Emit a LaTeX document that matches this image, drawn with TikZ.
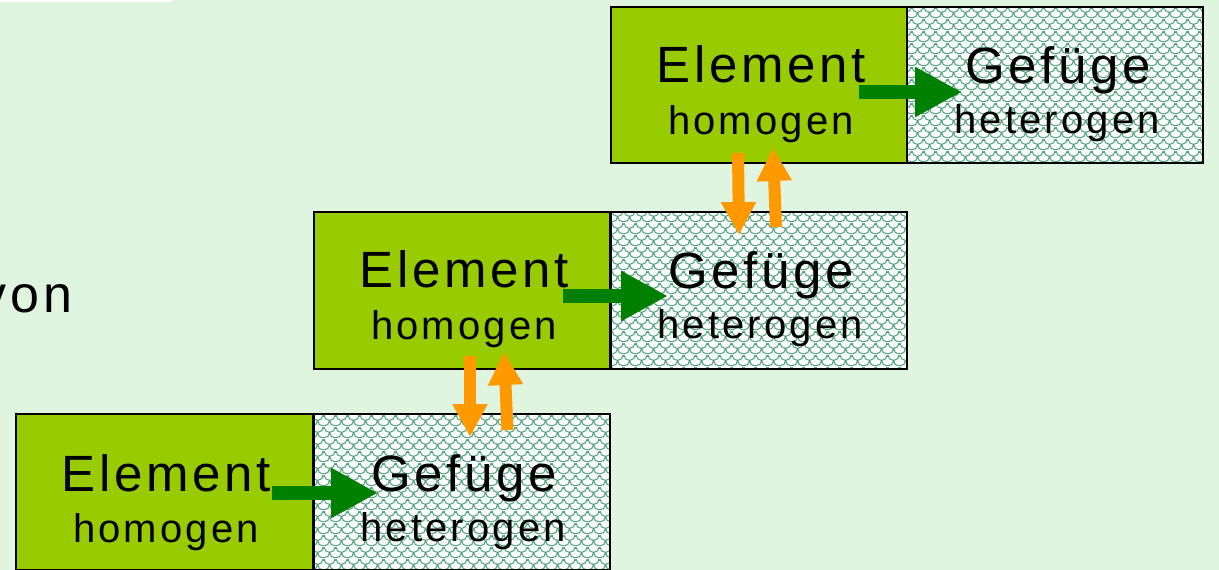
\documentclass[tikz,border=0pt]{standalone}
\usepackage{fontspec}
\setmainfont{Liberation Sans}
\usetikzlibrary{arrows.meta,patterns}
\definecolor{bg}{RGB}{224,245,224}
\definecolor{elemgreen}{RGB}{153,204,0}
\definecolor{patcol}{RGB}{75,160,125}
\definecolor{arrgreen}{RGB}{0,128,0}
\definecolor{arrorange}{RGB}{255,153,0}
\pgfdeclarepatterninherentlycolored{scales}{\pgfpoint{0bp}{0bp}}{\pgfpoint{12bp}{12bp}}{\pgfpoint{12bp}{12bp}}{%
  \pgfsetlinewidth{1.1bp}%
  \pgfsetstrokecolor{patcol}%
  \pgfpathmoveto{\pgfpoint{0bp}{12bp}}\pgfpatharc{180}{360}{6bp}%
  \pgfpathmoveto{\pgfpoint{0bp}{0bp}}\pgfpatharc{270}{360}{6bp}%
  \pgfpathmoveto{\pgfpoint{6bp}{6bp}}\pgfpatharc{180}{270}{6bp}%
  \pgfusepath{stroke}%
}
\tikzset{
  box/.style={draw=black,line width=2bp,minimum width=296bp,minimum height=156bp,inner sep=0pt,outer sep=0pt},
  elembox/.style={box,fill=elemgreen},
  gefbox/.style={box,preaction={fill=white},pattern=scales},
  bigtext/.style={anchor=base,inner sep=0pt,font=\fontsize{51bp}{60bp}\selectfont\addfontfeature{LetterSpace=7}},
  smalltext/.style={anchor=base,inner sep=0pt,font=\fontsize{40bp}{48bp}\selectfont\addfontfeature{LetterSpace=8}},
  greenarrow/.style={draw=arrgreen,line width=14bp,-{Triangle[length=47bp,width=47bp]}},
  orangearrow/.style={draw=arrorange,line width=12bp,-{Triangle[length=33bp,width=33bp]}},
}
\begin{document}
\begin{tikzpicture}[x=1bp,y=-1bp]
\useasboundingbox (0,0) rectangle (1219,570);
\fill[bg] (0,0) rectangle (1219,570);
\fill[white] (0,0) rectangle (172,2);
\node[anchor=base east,inner sep=0pt,font=\fontsize{52bp}{60bp}\selectfont\addfontfeature{LetterSpace=8}] (von) at (73,313) {von};
% top row
\node[elembox] (e3) at (759,85) {};
\node[gefbox] (g3) at (1055,85) {};
\node[bigtext] (e3a) at (761,83) {Element};
\node[smalltext] (e3b) at (761,135) {homogen};
\node[bigtext] (g3a) at (1058,84) {Gefüge};
\node[smalltext] (g3b) at (1057,134) {heterogen};
% middle row
\node[elembox] (e2) at (462,290.5) {};
\node[gefbox] (g2) at (759,290.5) {};
\node[bigtext] (e2a) at (464,288) {Element};
\node[smalltext] (e2b) at (464,340) {homogen};
\node[bigtext] (g2a) at (761,289) {Gefüge};
\node[smalltext] (g2b) at (760,339) {heterogen};
% bottom row
\node[elembox] (e1) at (164.5,492) {};
\node[gefbox] (g1) at (462,492) {};
\node[bigtext] (e1a) at (166,491) {Element};
\node[smalltext] (e1b) at (166,542) {homogen};
\node[bigtext] (g1a) at (464,491) {Gefüge};
\node[smalltext] (g1b) at (463,541) {heterogen};
% arrow end points
\coordinate (h3s) at (859,92); \coordinate (h3e) at (962,92);
\coordinate (h2s) at (563,296); \coordinate (h2e) at (668,296);
\coordinate (h1s) at (272,493); \coordinate (h1e) at (378,493);
\coordinate (d3s) at (738,153); \coordinate (d3e) at (739,235);
\coordinate (u3s) at (776,227); \coordinate (u3e) at (773,148);
\coordinate (d2s) at (470,356); \coordinate (d2e) at (470,437);
\coordinate (u2s) at (507.5,430); \coordinate (u2e) at (504,352);
\draw[greenarrow] (h3s) -- (h3e);
\draw[greenarrow] (h2s) -- (h2e);
\draw[greenarrow] (h1s) -- (h1e);
\draw[orangearrow] (d3s) -- (d3e);
\draw[orangearrow] (u3s) -- (u3e);
\draw[orangearrow] (d2s) -- (d2e);
\draw[orangearrow] (u2s) -- (u2e);
\end{tikzpicture}
\end{document}
